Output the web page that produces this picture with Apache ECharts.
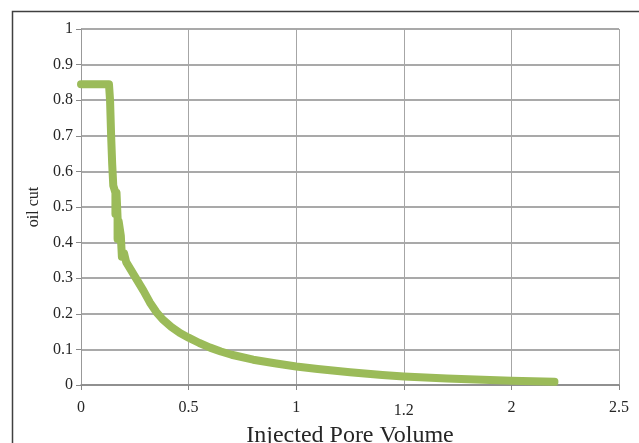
<!DOCTYPE html>
<html><head><meta charset="utf-8">
<script src="https://cdn.jsdelivr.net/npm/echarts@6/dist/echarts.min.js"></script>
<style>html,body{margin:0;padding:0;background:#fff}#c{width:639px;height:443px}</style>
</head><body><div id="c"></div>
<script>
var xTickLabels = ['0', '0.5', '1', '1.2', '2', '2.5'];
var injectedPV = [0, 0.13, 0.135, 0.14, 0.145, 0.15, 0.155, 0.16, 0.16, 0.165, 0.17, 0.17, 0.175, 0.185, 0.19, 0.2, 0.21, 0.25, 0.29, 0.32, 0.35, 0.38, 0.42, 0.46, 0.5, 0.55, 0.6, 0.65, 0.7, 0.8, 0.9, 1.0, 1.1, 1.25, 1.4, 1.5, 1.7, 1.9, 2.0, 2.2];
var oilCut = [0.845, 0.845, 0.80, 0.70, 0.62, 0.56, 0.55, 0.54, 0.48, 0.54, 0.47, 0.41, 0.46, 0.42, 0.36, 0.37, 0.345, 0.305, 0.265, 0.232, 0.205, 0.184, 0.163, 0.146, 0.133, 0.118, 0.105, 0.094, 0.085, 0.071, 0.061, 0.052, 0.045, 0.036, 0.028, 0.024, 0.018, 0.014, 0.012, 0.009];

var data = injectedPV.map(function (x, i) { return [x, oilCut[i]]; });
var serif = '"Liberation Serif", "DejaVu Serif", serif';
var chart = echarts.init(document.getElementById('c'));
chart.setOption({
  animation: false,
  backgroundColor: '#fff',
  graphic: [{
    type: 'rect', left: 10, top: 9, z: -1,
    shape: { width: 628, height: 440 },
    style: { fill: 'none', stroke: '#404040', lineWidth: 1.5 }
  }],
  grid: { left: 81, right: 20, top: 29, bottom: 58, containLabel: false, outerBoundsMode: 'none' },
  xAxis: {
    type: 'value', min: 0, max: 2.5, interval: 0.5,
    name: 'Injected Pore Volume', nameLocation: 'middle', nameGap: 34,
    nameTextStyle: { fontFamily: serif, fontSize: 24, color: '#262626' },
    axisLine: { show: true, lineStyle: { color: '#888', width: 1.5 } },
    axisTick: { show: true, length: 5, inside: false, lineStyle: { color: '#888' } },
    axisLabel: {
      fontFamily: serif, fontSize: 16, color: '#262626', margin: 15,
      formatter: function (v) {
        var i = Math.round(v / 0.5);
        return i === 3 ? '{low|' + xTickLabels[i] + '}' : xTickLabels[i];
      },
      rich: { low: { fontFamily: serif, fontSize: 16, color: '#262626', padding: [3, 0, 0, 0] } }
    },
    splitLine: { show: true, lineStyle: { color: '#a6a6a6', width: 1 } }
  },
  yAxis: {
    type: 'value', min: 0, max: 1, interval: 0.1,
    name: 'oil cut', nameLocation: 'middle', nameGap: 31, nameRotate: 90,
    nameTextStyle: { fontFamily: serif, fontSize: 16, color: '#262626' },
    axisLine: { show: true, lineStyle: { color: '#999', width: 1 } },
    axisTick: { show: true, length: 5, lineStyle: { color: '#888' } },
    axisLabel: { fontFamily: serif, fontSize: 16, color: '#262626', margin: 8 },
    splitLine: { show: true, lineStyle: { color: '#8c8c8c', width: 1.5 } }
  },
  series: [{
    type: 'line', data: data, showSymbol: false, smooth: false,
    lineStyle: { color: '#9bbb59', width: 8, cap: 'round', join: 'round' }
  }]
});
</script></body></html>
